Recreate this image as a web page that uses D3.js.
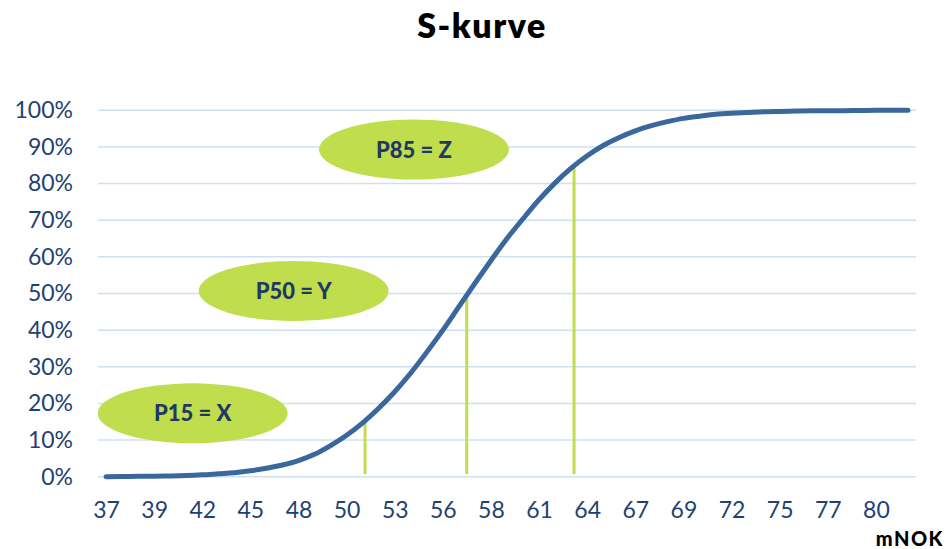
<!DOCTYPE html>
<html>
<head>
<meta charset="utf-8">
<script src="https://cdn.jsdelivr.net/npm/d3@7"></script>
<style>
  body { margin: 0; background: #fff; }
  text { font-family: Lato, "Open Sans", sans-serif; }
</style>
</head>
<body>
<script>
// cumulative probability (%) for each cost step
var values = [0.0, 0.05, 0.1, 0.15, 0.2, 0.3, 0.5, 0.8, 1.1, 1.6,
              2.3, 3.2, 4.4, 6.1, 8.5, 11.3, 14.7, 18.7, 23.2, 28.3,
              34.0, 40.0, 46.4, 52.8, 59.0, 65.0, 70.4, 75.6, 80.2, 84.2,
              87.6, 90.4, 92.6, 94.4, 95.8, 96.9, 97.8, 98.4, 98.9, 99.2,
              99.4, 99.6, 99.7, 99.8, 99.85, 99.9, 99.9, 99.95, 100, 100, 100];

// x tick labels (mNOK), one for every third step
var xLabels = ["37", "39", "42", "45", "48", "50", "53", "56", "58",
               "61", "64", "67", "69", "72", "75", "77", "80"];
var labelEvery = 3;

var yTicks = [0, 10, 20, 30, 40, 50, 60, 70, 80, 90, 100];

// percentile markers: step position of the drop line, and the label bubble
var percentiles = [
  { name: "P15 = X", p: 15, step: 16.15, bx: 5.4,  by: 17.3 },
  { name: "P50 = Y", p: 50, step: 22.49, bx: 11.7, by: 50.7 },
  { name: "P85 = Z", p: 85, step: 29.18, bx: 19.2, by: 89.3 }
];

var width = 947, height = 549;
var navy = "#1f4272", green = "#c0dd4e";

var svg = d3.select("body").append("svg")
    .attr("width", width)
    .attr("height", height);

var x = d3.scaleLinear()
    .domain([-0.5, values.length - 0.5])
    .range([98, 916]);

var y = d3.scaleLinear()
    .domain([0, 100])
    .range([476.7, 110.3]);

// title
svg.append("text")
    .attr("x", 482)
    .attr("y", 38)
    .attr("text-anchor", "middle")
    .attr("font-family", "'Open Sans', Lato, sans-serif")
    .attr("font-size", 34)
    .attr("font-weight", 800)
    .attr("letter-spacing", 1.5)
    .attr("fill", "#000")
    .text("S-kurve");

// horizontal gridlines
svg.append("g")
  .selectAll("line")
  .data(yTicks)
  .enter().append("line")
    .attr("x1", x.range()[0])
    .attr("x2", x.range()[1])
    .attr("y1", function(d) { return y(d); })
    .attr("y2", function(d) { return y(d); })
    .attr("stroke", "#cfe0f3")
    .attr("stroke-width", 1.5);

// y axis labels
var yAxis = d3.axisLeft(y)
    .tickValues(yTicks)
    .tickFormat(function(d) { return d + "%"; })
    .tickSize(0)
    .tickPadding(0);

svg.append("g")
    .attr("transform", "translate(73,0)")
    .call(yAxis)
    .call(function(g) { g.select(".domain").remove(); })
    .selectAll("text")
    .attr("font-size", 23)
    .attr("font-family", "Lato")
    .attr("fill", navy);

// x axis labels
var xAxis = d3.axisBottom(x)
    .tickValues(xLabels.map(function(d, i) { return i * labelEvery; }))
    .tickFormat(function(d) { return xLabels[d / labelEvery]; })
    .tickSize(0)
    .tickPadding(0);

svg.append("g")
    .attr("transform", "translate(0,502)")
    .call(xAxis)
    .call(function(g) { g.select(".domain").remove(); })
    .selectAll("text")
    .attr("font-size", 23)
    .attr("font-family", "Lato")
    .attr("fill", navy);

// axis title
svg.append("text")
    .attr("x", 944)
    .attr("y", 546)
    .attr("text-anchor", "end")
    .attr("font-size", 20)
    .attr("font-weight", 900)
    .attr("letter-spacing", 1.5)
    .attr("fill", "#000")
    .text("mNOK");

// drop lines
svg.append("g")
  .selectAll("line")
  .data(percentiles)
  .enter().append("line")
    .attr("x1", function(d) { return x(d.step); })
    .attr("x2", function(d) { return x(d.step); })
    .attr("y1", function(d) { return y(d.p); })
    .attr("y2", y(0.7))
    .attr("stroke", green)
    .attr("stroke-width", 3);

// the s-curve
var line = d3.line()
    .x(function(d, i) { return x(i); })
    .y(function(d) { return y(d); })
    .curve(d3.curveMonotoneX);

svg.append("path")
    .datum(values)
    .attr("d", line)
    .attr("fill", "none")
    .attr("stroke", "#3a689c")
    .attr("stroke-width", 5)
    .attr("stroke-linecap", "round");

// percentile bubbles
var bubble = svg.append("g")
  .selectAll("g")
  .data(percentiles)
  .enter().append("g")
    .attr("transform", function(d) { return "translate(" + x(d.bx) + "," + y(d.by) + ")"; });

bubble.append("ellipse")
    .attr("rx", 95)
    .attr("ry", 30)
    .attr("fill", green);

bubble.append("text")
    .attr("y", 8)
    .attr("text-anchor", "middle")
    .attr("font-size", 22)
    .attr("font-weight", 900)
    .attr("fill", "#1f3864")
    .text(function(d) { return d.name; });
</script>
</body>
</html>
